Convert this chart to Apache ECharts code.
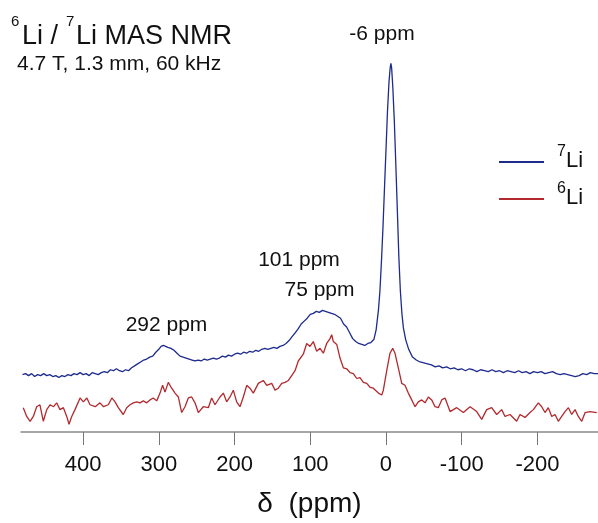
<!DOCTYPE html>
<html>
<head>
<meta charset="utf-8">
<script src="https://cdn.jsdelivr.net/npm/echarts@6/dist/echarts.min.js"></script>
<style>
html,body{margin:0;padding:0;background:#fff;}
#c{width:598px;height:523px;}
</style>
</head>
<body>
<div id="c"></div>
<script>
// chemical shift tick labels (ppm)
var ppmTicks = [400, 300, 200, 100, 0, -100, -200];
var seriesNames = ['7Li', '6Li'];
// 7Li spectrum: [ppm, intensity (arb.)]
var li7 = [[480,59],[476,60],[472,58],[468,60],[464,57],[460,59],[456,58],[452,60],[448,58],[444,59],[440,57],[436,58],[432,56],[428,58],[424,57],[420,59],[416,58],[412,60],[408,59],[404,61],[400,59],[396,60],[392,58],[388,61],[384,60],[380,59],[376,61],[372,62],[368,61],[364,64],[360,63],[356,65],[352,63],[348,62],[344,64],[340,63],[336,66],[332,68],[328,70],[324,72],[320,74],[316,75],[312,77],[308,78],[304,82],[300,85],[297,88],[294,89],[291,88],[288,87],[284,86],[280,84],[276,81],[272,78],[268,77],[264,76],[260,75],[256,74],[252,73],[248,74],[244,73],[240,75],[236,74],[232,75],[228,76],[224,75],[220,76],[216,78],[212,77],[208,79],[204,78],[200,80],[196,81],[192,80],[188,82],[184,81],[180,83],[176,82],[172,84],[168,83],[164,85],[160,86],[156,85],[152,86],[148,87],[144,86],[140,88],[136,89],[132,91],[128,94],[124,98],[120,102],[116,106],[112,111],[108,114],[104,117],[100,121],[96,122],[92,124],[88,123],[84,125],[80,124],[76,123],[72,122],[68,121],[64,119],[60,117],[56,111],[52,108],[48,102],[44,96],[40,93],[36,91],[32,90],[28,89],[24,91],[20,92],[16,95],[13,105],[10,125],[8,145],[6,175],[4,210],[2,250],[0,290],[-2,330],[-4,360],[-5.5,374],[-6.5,379],[-7.5,374],[-9,355],[-11,320],[-13,275],[-15,228],[-17,180],[-19,145],[-21,122],[-23,107],[-26,95],[-30,85],[-35,77],[-40,74],[-45,72],[-50,71],[-55,70],[-60,69],[-65,67],[-70,68],[-75,66],[-80,67],[-85,65],[-90,66],[-95,64],[-100,65],[-105,63],[-110,65],[-115,64],[-120,62],[-125,64],[-130,63],[-135,62],[-140,64],[-145,62],[-150,63],[-155,61],[-160,63],[-165,62],[-170,61],[-175,63],[-180,61],[-185,62],[-190,60],[-195,62],[-200,61],[-205,62],[-210,60],[-215,61],[-220,62],[-225,60],[-230,59],[-235,60],[-240,59],[-245,58],[-250,57],[-255,58],[-260,60],[-265,59],[-270,61],[-275,60],[-280,60]];
// 6Li spectrum: [ppm, intensity (arb.)]
var li6 = [[479,25],[474.5,16],[470,11],[465.7,16],[461.3,26],[457,28],[452.5,11],[448,23],[443.7,28],[439,26],[434.9,30],[430.5,23],[426,25],[421.6,16],[418.6,8],[415,16],[410.7,23],[404,35],[399.7,31],[395,35],[390.9,28],[384,26],[377.7,30],[373,26],[366.7,28],[362,35],[357.8,31],[353.5,25],[346.9,18],[342.4,25],[338,28],[333.7,30],[329.2,31],[324.8,30],[320.5,32],[316,30],[311.6,33],[307.3,35],[302.8,32],[298.4,40],[295,48],[291.8,41],[287.5,51],[283,45],[278.6,40],[274.2,36],[269.8,20],[265.4,26],[261,35],[256.6,36],[252.2,30],[247.8,20],[241.3,26],[234.6,25],[230.2,35],[225.8,28],[219.2,36],[214.8,40],[210.4,31],[206,36],[201.6,43],[197.2,31],[192.8,26],[188.4,36],[183.9,48],[179.6,45],[175.2,40],[168.6,50],[162,53],[157.5,48],[150.9,50],[146.5,43],[142.2,45],[137.7,50],[133.3,51],[128.9,53],[124.5,58],[120.1,63],[115.8,73],[109.2,80],[104.7,91],[100.3,88],[96,93],[91.5,83],[87.1,86],[82.7,81],[78.3,91],[73.9,96],[71.7,100],[69.5,93],[65,90],[60.7,76],[56.3,66],[51.8,65],[47.5,61],[43.1,60],[38.6,55],[34.3,56],[29.9,51],[25.4,50],[21,46],[16.7,45],[10,40],[5.6,38],[3.5,43],[-1,63],[-5.3,81],[-8.9,86],[-11.9,81],[-16.3,66],[-20.8,50],[-25.1,48],[-29.5,40],[-34,33],[-38.4,26],[-42.7,31],[-47.2,33],[-51.6,30],[-56,36],[-60.4,33],[-64.8,26],[-69.1,25],[-73.6,33],[-78,35],[-82.3,26],[-84.6,21],[-93.4,25],[-102.2,20],[-111,26],[-119.8,21],[-126.4,13],[-133,23],[-139.6,25],[-146.2,18],[-152.8,23],[-157.2,16],[-163.8,18],[-172.6,11],[-177,18],[-183.6,15],[-190.2,20],[-194.6,23],[-201.2,30],[-205.7,26],[-210,20],[-214.4,25],[-218.9,16],[-223.3,18],[-227.6,11],[-232,16],[-236.5,21],[-240.9,25],[-245.3,18],[-249.7,23],[-254,16],[-258.5,11],[-263,20],[-269.5,21],[-278.3,20]];

var FONT = '"Liberation Sans", Arial, Helvetica, sans-serif';
var chart = echarts.init(document.getElementById('c'), null, {renderer: 'canvas'});

function txt(x, y, s, size, align) {
  return {type: 'text', x: x, y: y, silent: true,
    style: {text: s, fontSize: size, fontFamily: FONT, fill: '#111',
      align: align || 'left', textAlign: align || 'left',
      verticalAlign: 'middle', textVerticalAlign: 'middle'}};
}

var legendRich = {
  s: {fontSize: 16, fontFamily: FONT, color: '#111', verticalAlign: 'top', lineHeight: 14},
  m: {fontSize: 22, fontFamily: FONT, color: '#111', verticalAlign: 'bottom', lineHeight: 36, padding: [0, 0, 8, 0]}
};

chart.setOption({
  animation: false,
  backgroundColor: '#fff',
  grid: {left: 21, right: 0, top: 40, bottom: 80, containLabel: false},
  legend: {
    orient: 'vertical', left: 499, top: 144, padding: 0, itemWidth: 45, itemHeight: 2, itemGap: 1,
    icon: 'rect', selectedMode: false,
    data: seriesNames,
    formatter: function (n) { return '{s|' + n.charAt(0) + '}{m|' + n.slice(1) + '}'; },
    textStyle: {padding: [0, 0, 0, 8], rich: legendRich}
  },
  xAxis: {
    type: 'value', inverse: true, min: -280, max: 482,
    name: 'δ  (ppm)', nameLocation: 'middle', nameGap: 58,
    nameTextStyle: {fontSize: 28, fontFamily: FONT, color: '#111'},
    axisLine: {onZero: false, lineStyle: {color: '#8a8a8a', width: 1.5}},
    axisTick: {show: true, inside: false, length: 13, customValues: ppmTicks, lineStyle: {color: '#777', width: 1}},
    axisLabel: {customValues: ppmTicks, margin: 22, fontSize: 22, fontFamily: FONT, color: '#111'},
    splitLine: {show: false}
  },
  yAxis: {type: 'value', min: 0, max: 403, show: false},
  series: [
    {name: seriesNames[0], type: 'line', data: li7, showSymbol: false, symbol: 'none',
      lineStyle: {color: '#1d2a8e', width: 1.3}, itemStyle: {color: '#1d2a8e'}},
    {name: seriesNames[1], type: 'line', data: li6, showSymbol: false, symbol: 'none',
      lineStyle: {color: '#b22a2e', width: 1.3}, itemStyle: {color: '#b22a2e'}}
  ],
  graphic: [
    txt(11, 22, '6', 15),
    txt(22, 37, 'Li / ', 27),
    txt(66, 22, '7', 15),
    txt(76, 37, 'Li MAS NMR', 27),
    txt(17, 64, '4.7 T, 1.3 mm, 60 kHz', 21),
    txt(382, 34, '-6 ppm', 21, 'center'),
    txt(299, 260, '101 ppm', 21, 'center'),
    txt(319.5, 290, '75 ppm', 21, 'center'),
    txt(166.5, 325, '292 ppm', 21, 'center')
  ]
});
</script>
</body>
</html>
